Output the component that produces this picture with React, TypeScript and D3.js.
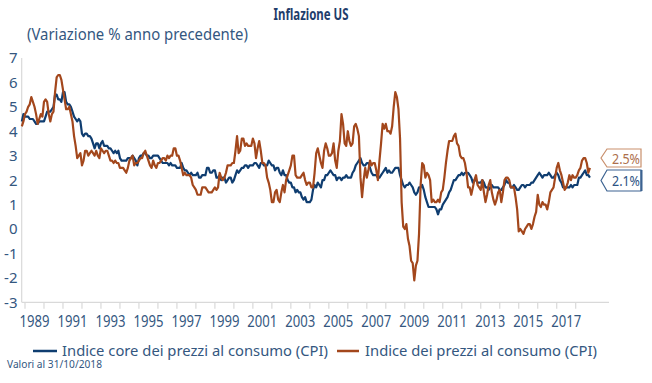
import React from "react";
import * as d3 from "d3";

// Monthly year-on-year % change, from Nov 1988 to Oct 2018
const startYear = 1988;
const startMonth = 10; // 0-based: November

const coreCPI: number[] = [
  4.4, 4.7,
  4.6, 4.6, 4.6, 4.5, 4.5, 4.5, 4.4, 4.3, 4.3, 4.4, 4.4, 4.4,
  4.4, 4.6, 4.8, 4.8, 4.8, 4.9, 5.0, 5.5, 5.5, 5.3, 5.3, 5.2,
  5.6, 5.6, 5.2, 5.1, 5.1, 5.0, 4.8, 4.6, 4.5, 4.4, 4.5, 4.4,
  3.9, 3.8, 3.9, 3.9, 3.8, 3.8, 3.7, 3.5, 3.3, 3.5, 3.5, 3.3,
  3.5, 3.6, 3.4, 3.4, 3.4, 3.3, 3.3, 3.2, 3.1, 3.2, 3.1, 3.2,
  2.9, 2.8, 2.8, 2.8, 2.8, 2.9, 2.9, 2.9, 3.0, 2.9, 2.8, 2.6,
  2.9, 3.0, 3.0, 3.1, 3.1, 3.0, 3.0, 2.9, 2.9, 3.0, 3.0, 3.0,
  3.0, 2.9, 2.8, 2.7, 2.7, 2.7, 2.7, 2.6, 2.7, 2.6, 2.6, 2.6,
  2.5, 2.5, 2.5, 2.7, 2.5, 2.4, 2.4, 2.3, 2.2, 2.3, 2.2, 2.2,
  2.2, 2.3, 2.1, 2.1, 2.2, 2.2, 2.2, 2.5, 2.5, 2.3, 2.3, 2.4,
  2.4, 2.1, 2.1, 2.2, 2.0, 2.1, 2.1, 1.9, 2.0, 2.1, 2.1, 1.9,
  2.0, 2.2, 2.4, 2.3, 2.4, 2.5, 2.5, 2.6, 2.6, 2.5, 2.6, 2.6,
  2.6, 2.7, 2.7, 2.6, 2.5, 2.7, 2.7, 2.6, 2.6, 2.6, 2.8, 2.7,
  2.6, 2.6, 2.4, 2.5, 2.5, 2.3, 2.2, 2.4, 2.2, 2.2, 2.0, 1.9,
  1.9, 1.7, 1.7, 1.5, 1.6, 1.5, 1.5, 1.3, 1.2, 1.3, 1.1, 1.1,
  1.1, 1.2, 1.6, 1.8, 1.7, 1.9, 1.8, 1.7, 2.0, 2.0, 2.2, 2.2,
  2.3, 2.4, 2.3, 2.2, 2.2, 2.0, 2.1, 2.1, 2.0, 2.1, 2.1, 2.2,
  2.1, 2.1, 2.1, 2.3, 2.4, 2.6, 2.7, 2.8, 2.9, 2.7, 2.6, 2.6,
  2.7, 2.7, 2.5, 2.3, 2.2, 2.2, 2.2, 2.1, 2.1, 2.2, 2.3, 2.4,
  2.5, 2.3, 2.4, 2.3, 2.3, 2.4, 2.5, 2.5, 2.5, 2.2, 2.0, 1.8,
  1.7, 1.8, 1.8, 1.9, 1.8, 1.7, 1.5, 1.4, 1.5, 1.7, 1.7, 1.8,
  1.6, 1.3, 1.1, 0.9, 0.9, 0.9, 0.9, 0.9, 0.8, 0.6, 0.8, 0.8,
  1.0, 1.1, 1.2, 1.3, 1.5, 1.6, 1.8, 2.0, 2.0, 2.1, 2.2, 2.2,
  2.3, 2.2, 2.3, 2.3, 2.3, 2.2, 2.1, 1.9, 2.0, 2.0, 1.9, 1.9,
  1.9, 2.0, 1.9, 1.7, 1.7, 1.6, 1.7, 1.8, 1.7, 1.7, 1.7, 1.7,
  1.6, 1.6, 1.7, 1.8, 2.0, 1.9, 1.9, 1.7, 1.7, 1.8, 1.7, 1.6,
  1.6, 1.7, 1.8, 1.8, 1.7, 1.8, 1.8, 1.8, 1.9, 1.9, 2.0, 2.1,
  2.2, 2.3, 2.2, 2.1, 2.2, 2.2, 2.2, 2.3, 2.2, 2.1, 2.1, 2.2,
  2.3, 2.2, 2.0, 1.9, 1.7, 1.7, 1.7, 1.7, 1.7, 1.8, 1.7, 1.8,
  1.8, 1.8, 2.1, 2.1, 2.2, 2.3, 2.4, 2.2, 2.2, 2.1,
];

const headlineCPI: number[] = [
  4.2, 4.4,
  4.7, 4.8, 5.0, 5.1, 5.4, 5.2, 5.0, 4.7, 4.3, 4.5, 4.7, 4.6,
  5.2, 5.3, 5.2, 4.7, 4.4, 4.7, 4.8, 5.6, 6.2, 6.3, 6.3, 6.1,
  5.7, 5.3, 4.9, 4.9, 5.0, 4.7, 4.4, 3.8, 3.4, 2.9, 3.0, 3.1,
  2.6, 2.8, 3.2, 3.2, 3.0, 3.1, 3.2, 3.1, 3.0, 3.2, 3.0, 2.9,
  3.3, 3.2, 3.1, 3.2, 3.2, 3.0, 2.8, 2.8, 2.7, 2.8, 2.7, 2.7,
  2.5, 2.5, 2.5, 2.4, 2.3, 2.5, 2.8, 2.9, 3.0, 2.6, 2.7, 2.7,
  2.8, 2.9, 2.9, 3.1, 3.2, 3.0, 2.8, 2.6, 2.5, 2.8, 2.6, 2.5,
  2.7, 2.7, 2.8, 2.9, 2.9, 2.8, 3.0, 2.9, 3.0, 3.0, 3.3, 3.3,
  3.0, 3.0, 2.8, 2.5, 2.2, 2.3, 2.2, 2.2, 2.2, 2.1, 1.8, 1.7,
  1.6, 1.4, 1.4, 1.4, 1.7, 1.7, 1.7, 1.6, 1.5, 1.5, 1.5, 1.6,
  1.7, 1.6, 1.7, 2.3, 2.1, 2.0, 2.1, 2.3, 2.6, 2.6, 2.6, 2.7,
  2.7, 3.2, 3.8, 3.1, 3.2, 3.7, 3.7, 3.4, 3.5, 3.4, 3.4, 3.4,
  3.7, 3.5, 2.9, 3.3, 3.6, 3.2, 2.7, 2.7, 2.6, 2.1, 1.9, 1.6,
  1.1, 1.1, 1.5, 1.6, 1.2, 1.1, 1.5, 1.8, 1.5, 2.0, 2.2, 2.4,
  2.6, 3.0, 3.0, 2.2, 2.1, 2.1, 2.1, 2.2, 2.3, 2.0, 1.8, 1.9,
  1.9, 1.7, 1.7, 2.3, 3.1, 3.3, 3.0, 2.7, 2.5, 3.2, 3.5, 3.3,
  3.0, 3.0, 3.1, 3.5, 2.8, 2.5, 3.2, 3.6, 4.7, 4.3, 3.5, 3.4,
  4.0, 3.6, 3.4, 3.5, 4.2, 4.3, 4.1, 3.8, 2.1, 1.3, 2.0, 2.5,
  2.1, 2.4, 2.8, 2.6, 2.7, 2.7, 2.4, 2.0, 2.8, 3.5, 4.3, 4.1,
  4.3, 4.0, 4.0, 3.9, 4.2, 5.0, 5.6, 5.4, 4.9, 3.7, 1.1, 0.1,
  0.0, 0.2, -0.4, -0.7, -1.3, -1.4, -2.1, -1.5, -1.3, -0.2, 1.8, 2.7,
  2.6, 2.1, 2.3, 2.2, 2.0, 1.1, 1.2, 1.1, 1.1, 1.2, 1.1, 1.5,
  1.6, 2.1, 2.7, 3.2, 3.6, 3.6, 3.6, 3.8, 3.9, 3.5, 3.4, 3.0,
  2.9, 2.9, 2.7, 2.3, 1.7, 1.7, 1.4, 1.7, 2.0, 2.2, 1.8, 1.7,
  1.6, 2.0, 1.5, 1.1, 1.4, 1.8, 2.0, 1.5, 1.2, 1.0, 1.2, 1.5,
  1.6, 1.1, 1.5, 2.0, 2.1, 2.1, 2.0, 1.7, 1.7, 1.7, 1.3, 0.8,
  -0.1, 0.0, -0.1, -0.2, 0.0, 0.1, 0.2, 0.2, 0.0, 0.2, 0.5, 0.7,
  1.4, 1.0, 0.9, 1.1, 1.0, 1.0, 0.8, 1.1, 1.5, 1.6, 1.7, 2.1,
  2.5, 2.7, 2.4, 2.2, 1.9, 1.6, 1.7, 1.9, 2.2, 2.0, 2.2, 2.1,
  2.1, 2.2, 2.4, 2.5, 2.8, 2.9, 2.9, 2.7, 2.3, 2.5,
];

const yTicks = [7, 6, 5, 4, 3, 2, 1, 0, -1, -2, -3];
const xTickYears = d3.range(1989, 2019);
const xLabelYears = [1989, 1991, 1993, 1995, 1997, 1999, 2001, 2003, 2005, 2007, 2009, 2011, 2013, 2015, 2017];
const legendLabels = ["Indice core dei prezzi al consumo (CPI)", "Indice dei prezzi al consumo (CPI)"];
const lastLabels = ["2.5%", "2.1%"];

const BLUE = "#0f3d70";
const ORANGE = "#a3471c";
const TEXT = "#34577f";
const GRID = "#d9d9d9";
const FONT = "'Noto Sans', sans-serif";

export default function App() {
  const x = d3.scaleLinear().domain([1989, 2018]).range([25, 575.7]);
  const y = d3.scaleLinear().domain([-3, 7]).range([302.3, 57.9]);
  const t = (i: number) => startYear + (startMonth + i) / 12;
  const line = d3
    .line<number>()
    .x((_, i) => x(t(i)))
    .y((v) => y(v));

  const axisLeft = 21.7;
  const axisRight = 609;
  const base = y(-3);

  const box = (yc: number, h: number) => {
    const x0 = 601, x1 = 607, x2 = 641;
    return `M${x0},${yc} L${x1},${yc - h / 2} L${x2},${yc - h / 2} L${x2},${yc + h / 2} L${x1},${yc + h / 2} Z`;
  };

  return (
    <svg
      width={652}
      height={383}
      style={{ position: "absolute", left: 0, top: 0, background: "#fff" }}
      fontFamily={FONT}
    >
      <text x={311} y={20} textAnchor="middle" fontWeight="bold" fontSize={16} fill="#1f3d6b" textLength={75} lengthAdjust="spacingAndGlyphs">
        Inflazione US
      </text>
      <text x={27} y={40} fontSize={16} fill={TEXT} textLength={221} lengthAdjust="spacingAndGlyphs">
        (Variazione % anno precedente)
      </text>

      {/* axes */}
      <line x1={axisLeft} x2={axisLeft} y1={y(7)} y2={base} stroke={GRID} strokeWidth={1.2} />
      <line x1={axisLeft} x2={axisRight} y1={base} y2={base} stroke={GRID} strokeWidth={1.2} />
      {xTickYears.map((yr) => (
        <line key={yr} x1={x(yr)} x2={x(yr)} y1={base} y2={base + 6.5} stroke={GRID} strokeWidth={1.2} />
      ))}
      {yTicks.map((v) => (
        <text key={v} x={17.5} y={y(v)} dy="0.36em" textAnchor="end" fontSize={15} fill={TEXT}>
          {v}
        </text>
      ))}
      {xLabelYears.map((yr) => (
        <text key={yr} x={x(yr + 0.5)} y={326.5} textAnchor="middle" fontSize={16} fill={TEXT} textLength={30} lengthAdjust="spacingAndGlyphs">
          {yr}
        </text>
      ))}

      {/* series */}
      <path d={line(coreCPI) || ""} fill="none" stroke={BLUE} strokeWidth={2.2} strokeLinejoin="round" />
      <path d={line(headlineCPI) || ""} fill="none" stroke={ORANGE} strokeWidth={2.2} strokeLinejoin="round" />

      {/* end labels */}
      <path d={box(158, 18)} fill="#fff" stroke="#c98f6c" strokeWidth={1.2} />
      <text x={626} y={163.5} textAnchor="middle" fontSize={14} fill="#ad6f4c" textLength={28} lengthAdjust="spacingAndGlyphs">
        {lastLabels[0]}
      </text>
      <path d={box(180.5, 21)} fill="#fff" stroke="#3c6391" strokeWidth={1.2} />
      <line x1={641.5} x2={641.5} y1={170} y2={191} stroke="#3c6391" strokeWidth={2} />
      <text x={626} y={185.5} textAnchor="middle" fontSize={14} fill="#2c5282" textLength={28} lengthAdjust="spacingAndGlyphs">
        {lastLabels[1]}
      </text>

      {/* legend */}
      <line x1={33} x2={57} y1={351} y2={351} stroke={BLUE} strokeWidth={2.5} />
      <text x={62} y={355.5} fontSize={14.5} fill={TEXT} textLength={266} lengthAdjust="spacingAndGlyphs">
        {legendLabels[0]}
      </text>
      <line x1={337} x2={359} y1={351} y2={351} stroke={ORANGE} strokeWidth={2.5} />
      <text x={365} y={355.5} fontSize={14.5} fill={TEXT} textLength={232} lengthAdjust="spacingAndGlyphs">
        {legendLabels[1]}
      </text>
      <text x={7} y={368} fontSize={10} fill={TEXT} textLength={95} lengthAdjust="spacingAndGlyphs">
        Valori al 31/10/2018
      </text>
    </svg>
  );
}
